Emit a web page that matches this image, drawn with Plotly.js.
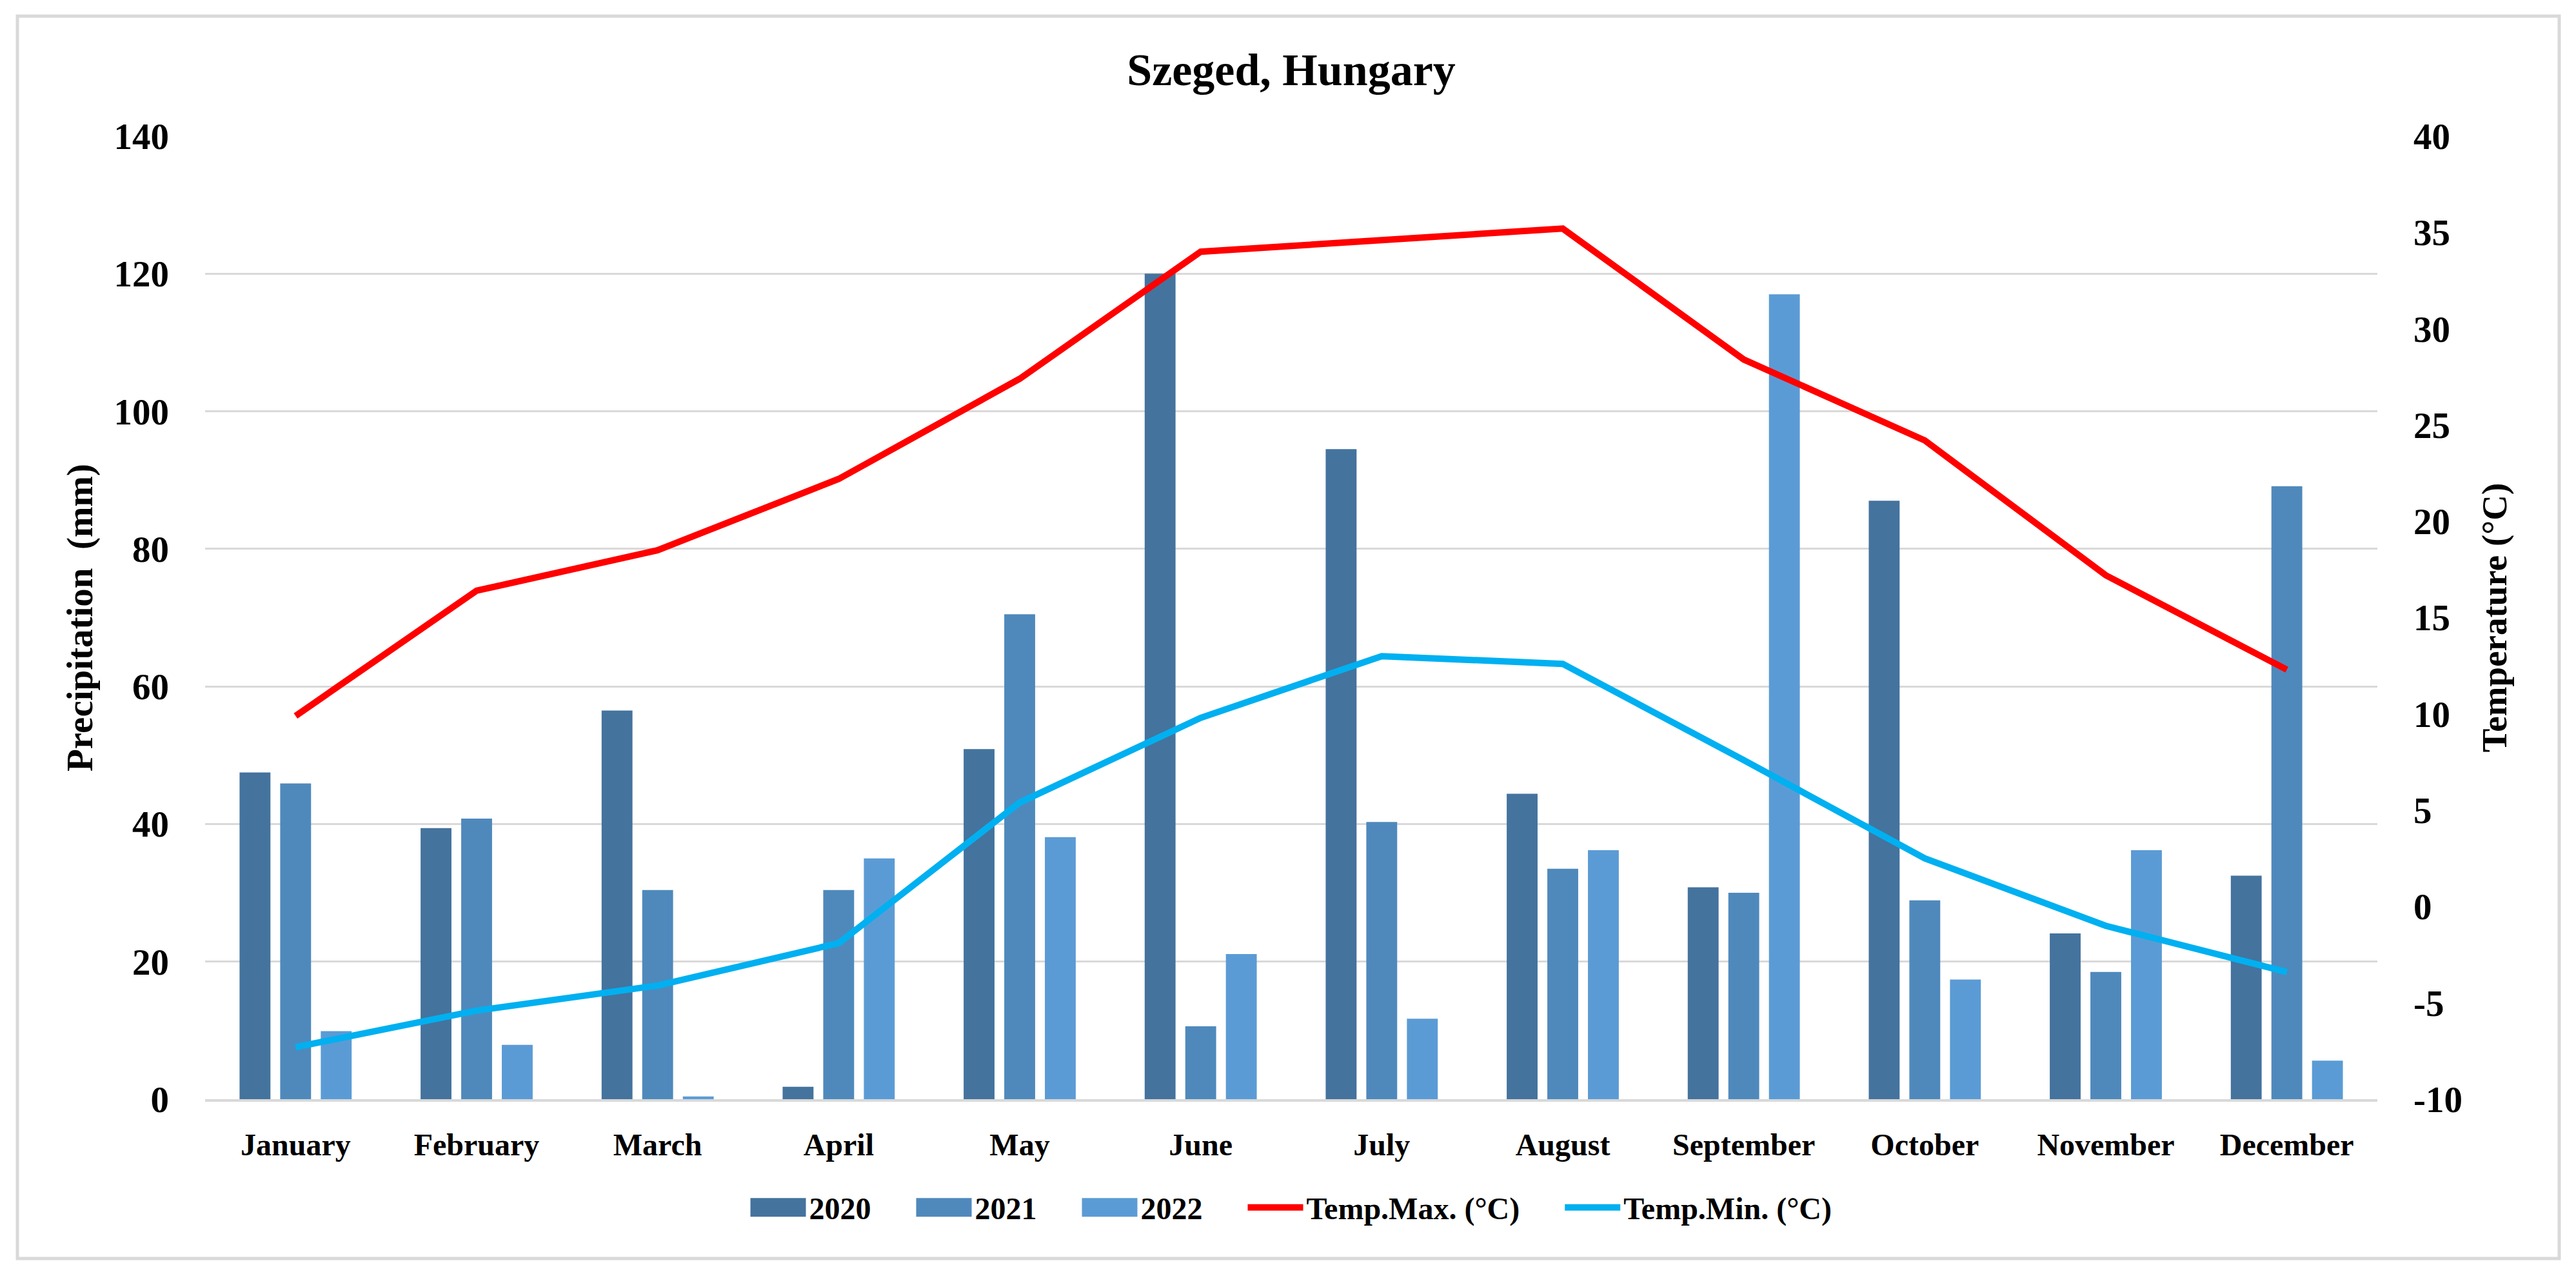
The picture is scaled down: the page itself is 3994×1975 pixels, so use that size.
<!DOCTYPE html>
<html>
<head>
<meta charset="utf-8">
<script src="https://cdn.plot.ly/plotly-3.0.1.min.js"></script>
<style>
html,body{margin:0;padding:0;background:#fff;}
#chart{width:3994px;height:1975px;}
</style>
</head>
<body>
<div id="chart"></div>
<script>
// ---- data ----
const months = ["January","February","March","April","May","June","July","August","September","October","November","December"];
const precip2020 = [47.5, 39.4, 56.5, 1.8, 50.9, 120.0, 94.5, 44.4, 30.8, 87.0, 24.1, 32.5];
const precip2021 = [45.9, 40.8, 30.4, 30.4, 70.5, 10.6, 40.3, 33.5, 30.0, 28.9, 18.5, 89.1];
const precip2022 = [9.9, 7.9, 0.4, 35.0, 38.1, 21.1, 11.7, 36.2, 117.0, 17.4, 36.2, 5.6];
const tempMax = [9.9, 16.4, 18.5, 22.2, 27.4, 34.0, 34.6, 35.2, 28.4, 24.2, 17.2, 12.3];
const tempMin = [-7.3, -5.4, -4.1, -1.9, 5.4, 9.8, 13.0, 12.6, 7.6, 2.5, -1.0, -3.4];
const seriesNames = ["2020", "2021", "2022", "Temp.Max. (°C)", "Temp.Min. (°C)"];
const leftTicks = [0, 20, 40, 60, 80, 100, 120, 140];
const rightTicks = [-10, -5, 0, 5, 10, 15, 20, 25, 30, 35, 40];

// ---- styles ----
const W = 3994, H = 1975;
const M = {l: 318, r: 308, t: 211, b: 271};
const FONT = "'Liberation Serif', 'DejaVu Serif', serif";
const barColors = ["#44739e", "#4f89bc", "#5b9bd5"];
const pw = W - M.l - M.r, ph = H - M.t - M.b;
const SWATCH_W = 86, SWATCH_H = 29, LEGEND_GAP = 60;

const traces = [
  {type: "bar", name: seriesNames[0], x: months, y: precip2020, marker: {color: barColors[0]}, yaxis: "y"},
  {type: "bar", name: seriesNames[1], x: months, y: precip2021, marker: {color: barColors[1]}, yaxis: "y"},
  {type: "bar", name: seriesNames[2], x: months, y: precip2022, marker: {color: barColors[2]}, yaxis: "y"},
  {type: "scatter", mode: "lines", name: seriesNames[3], x: months, y: tempMax, yaxis: "y2", line: {color: "#ff0000", width: 10}},
  {type: "scatter", mode: "lines", name: seriesNames[4], x: months, y: tempMin, yaxis: "y2", line: {color: "#00b0f0", width: 10}}
];

const tickFont = {family: FONT, size: 57, color: "#000", weight: "bold"};

const layout = {
  width: W, height: H,
  margin: M,
  paper_bgcolor: "#fff", plot_bgcolor: "#fff",
  font: {family: FONT, color: "#000"},
  title: {text: "Szeged, Hungary", font: {family: FONT, size: 70, color: "#000", weight: "bold"},
          x: 0.5, xref: "paper", xanchor: "center", y: 1 - 107 / H, yref: "container", yanchor: "middle"},
  barmode: "group", bargap: 0.327, bargroupgap: 0.24,
  showlegend: true,
  legend: {orientation: "h", x: 0.5, xanchor: "center", y: -(1872 - (H - M.b)) / ph, yanchor: "middle",
           bgcolor: "rgba(0,0,0,0)",
           font: {family: FONT, size: 48, color: "#000", weight: "bold"}, itemwidth: SWATCH_W, tracegroupgap: 0,
           traceorder: "normal"},
  xaxis: {type: "category", tickfont: {family: FONT, size: 48, color: "#000", weight: "bold"},
          showgrid: false, showline: true, linecolor: "#d9d9d9", linewidth: 4,
          ticks: "", ticklabelstandoff: 25, zeroline: false, fixedrange: true},
  yaxis: {range: [0, 140], tickvals: leftTicks, ticktext: leftTicks.map(String), tickfont: tickFont,
          showgrid: true, gridcolor: "#d9d9d9", gridwidth: 3, zeroline: false, showline: false,
          ticks: "", ticklabelstandoff: 55,
          title: {text: "Precipitation  (mm)", font: {family: FONT, size: 57, color: "#000", weight: "bold"}, standoff: 14},
          automargin: false},
  yaxis2: {range: [-10, 40], tickvals: rightTicks, ticktext: rightTicks.map(String), tickfont: tickFont,
           overlaying: "y", side: "right", showgrid: false, zeroline: false, showline: false,
           ticks: "", ticklabelstandoff: 55,
           title: {text: "Temperature (°C)", font: {family: FONT, size: 55, color: "#000", weight: "bold"}, standoff: 30},
           automargin: false},
  shapes: [{type: "rect", xref: "paper", yref: "paper",
            x0: (27 - M.l) / pw, x1: (3968 - M.l) / pw,
            y0: (H - M.b - 1951) / ph, y1: (H - M.b - 25) / ph,
            line: {color: "#d9d9d9", width: 5}, layer: "below"}]
};

Plotly.newPlot("chart", traces, layout, {staticPlot: true, displayModeBar: false}).then(function (gd) {
  // enlarge bar legend swatches to the wide rectangles of the original
  const hw = SWATCH_W / 2, hh = SWATCH_H / 2;
  gd.querySelectorAll(".legend .traces .legendpoints path").forEach(function (p) {
    const d = (p.getAttribute("d") || "").replace(/\s/g, "");
    if (d === "M6,6H-6V-6H6Z") {
      p.setAttribute("d", "M" + hw + "," + hh + "H" + (-hw) + "V" + (-hh) + "H" + hw + "Z");
    }
  });
  // the legend entries are spread wider than Plotly's own box, so drop its clipping
  gd.querySelectorAll(".legend .scrollbox, .legend [clip-path]").forEach(function (el) {
    el.removeAttribute("clip-path");
  });
  // widen spacing between legend entries, keeping the legend centred
  const items = Array.from(gd.querySelectorAll(".legend .traces"));
  const n = items.length;
  items.forEach(function (g, i) {
    const t = g.getAttribute("transform") || "";
    const m = t.match(/translate\(\s*([-\d.e]+)[ ,]+([-\d.e]+)\s*\)/);
    if (!m) return;
    const x = parseFloat(m[1]) + i * LEGEND_GAP - (n - 1) * LEGEND_GAP / 2;
    g.setAttribute("transform", "translate(" + x + "," + m[2] + ")");
  });
});
</script>
</body>
</html>
